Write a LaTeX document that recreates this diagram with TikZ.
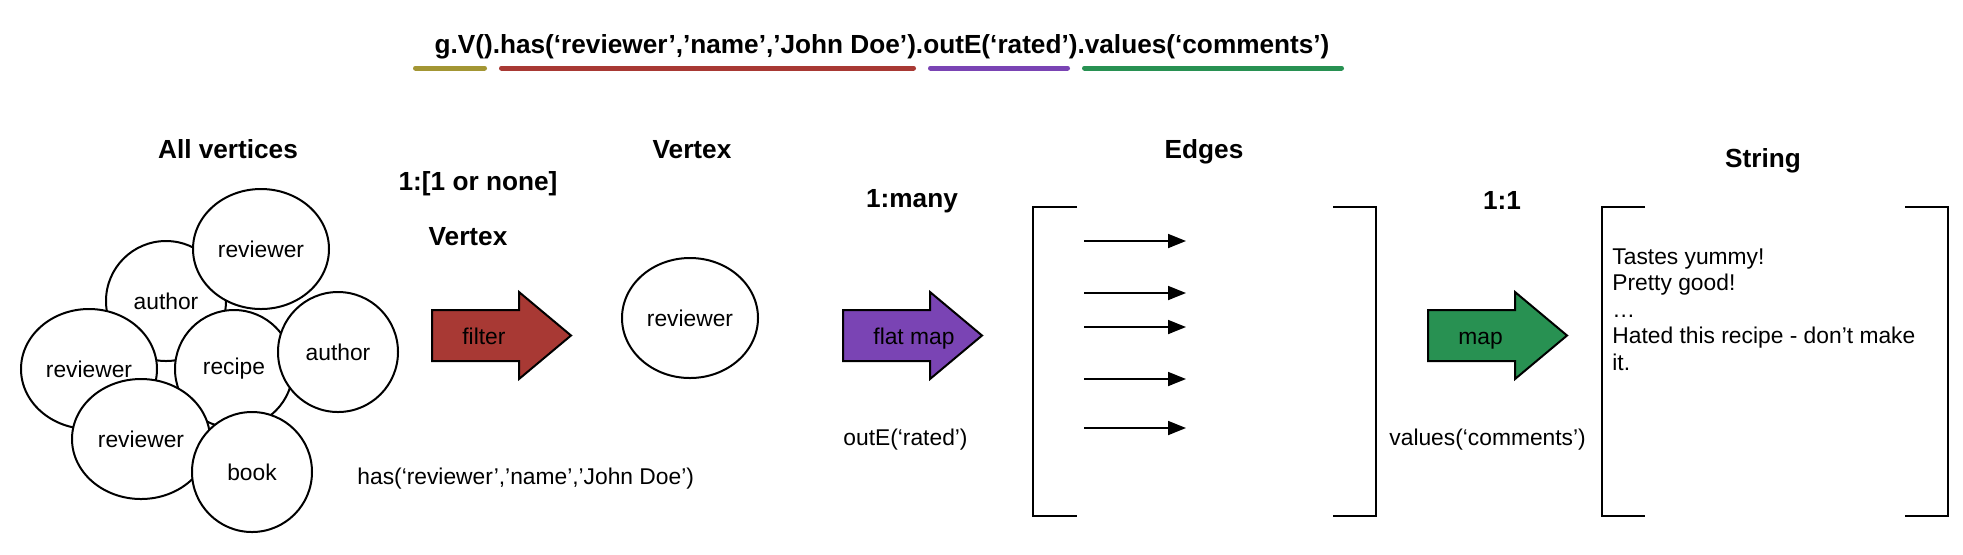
\documentclass[tikz,border=0pt]{standalone}
\usepackage{fontspec}
\setmainfont{Liberation Sans}
\usetikzlibrary{shapes.geometric,arrows.meta}
\definecolor{stepolive}{HTML}{A39634}
\definecolor{filterred}{HTML}{A83934}
\definecolor{flatpurple}{HTML}{7A44B4}
\definecolor{mapgreen}{HTML}{289152}

\begin{document}
\begin{tikzpicture}[x=0.5pt,y=-0.5pt,
  title/.style={font=\fontsize{13.1}{15}\selectfont\bfseries,anchor=base,inner sep=0pt},
  lbl/.style={font=\fontsize{11.4}{13.25}\selectfont,inner sep=0pt},
  vtx/.style={ellipse,draw,line width=1pt,fill=white,inner sep=0pt,
    minimum width=60pt,minimum height=60pt,font=\fontsize{11.4}{13.25}\selectfont},
  wide/.style={vtx,minimum width=68pt}]
\useasboundingbox (0,0) rectangle (1963,554);
\node[title] (query) at (882,53) {g.V().has(‘reviewer’,’name’,’John Doe’).outE(‘rated’).values(‘comments’)};
\draw[line width=2.5pt,line cap=round,stepolive] (415.5,68) -- (484.5,68);
\draw[line width=2.5pt,line cap=round,filterred] (501.5,68) -- (913.5,68);
\draw[line width=2.5pt,line cap=round,flatpurple] (930.5,68) -- (1067.5,68);
\draw[line width=2.5pt,line cap=round,mapgreen] (1084.5,68) -- (1341.5,68);

\node[title] (allv) at (228,158) {All vertices};
\node[title] (onenone) at (478,190) {1:[1 or none]};
\node[title] (vtxa) at (468,245) {Vertex};
\node[title] (vtxb) at (692,158) {Vertex};
\node[title] (onemany) at (912,207) {1:many};
\node[title] (edges) at (1204,158) {Edges};
\node[title] (oneone) at (1502,209) {1:1};
\node[title] (string) at (1763,167) {String};

\node[vtx] (author1) at (166,301) {author};
\node[wide] (rev1) at (261,249) {reviewer};
\node[wide] (rev2) at (89,369) {reviewer};
\node[vtx,minimum width=59pt,minimum height=59pt] (recipe) at (234,369) {recipe};
\node[vtx] (author2) at (338,352) {author};
\node[wide,minimum width=69pt] (rev3) at (141,439) {reviewer};
\node[vtx] (book) at (252,472) {book};
\node[wide] (rev4) at (690,318) {reviewer};

\foreach \ax/\col/\lab/\nm in {432/filterred/filter/filter,843/flatpurple/flat map/flatmap,1428/mapgreen/map/map}{
  \draw[line width=1pt,fill=\col] (\ax,310) -- ++(87,0) -- ++(0,-18) -- ++(52,43.5) -- ++(-52,43.5) -- ++(0,-18) -- ++(-87,0) -- cycle;
  \node[lbl,anchor=base west] (\nm) at (\ax+30,344) {\lab};
}

\node[lbl,anchor=base west] (hasstep) at (357,484) {has(‘reviewer’,’name’,’John Doe’)};
\node[lbl,anchor=base west] (outestep) at (843,445) {outE(‘rated’)};
\node[lbl,anchor=base west] (valuesstep) at (1389,445) {values(‘comments’)};

\draw[line width=1pt] (1077,207) -- (1033,207) -- (1033,516) -- (1077,516);
\draw[line width=1pt] (1333,207) -- (1376,207) -- (1376,516) -- (1333,516);
\foreach \ey [count=\i] in {241,293,327,379,428}{
  \coordinate (es\i) at (1084,\ey);
  \coordinate (et\i) at (1186,\ey);
  \draw[line width=0.9pt,-{Triangle[length=9pt,width=7pt]}] (es\i) -- (et\i);
}

\draw[line width=1pt] (1645,207) -- (1602,207) -- (1602,516) -- (1645,516);
\draw[line width=1pt] (1905,207) -- (1948,207) -- (1948,516) -- (1905,516);
\node[lbl,anchor=north west,align=left] (comments) at (1612,248) {Tastes yummy!\\Pretty good!\\…\\Hated this recipe - don’t make\\it.};
\end{tikzpicture}
\end{document}
